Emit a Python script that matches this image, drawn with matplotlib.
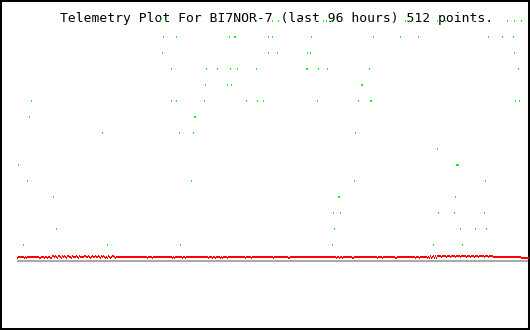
#Purpose: telemetry plot for BI7NOR-7, 512 points, one pixel column per point

import numpy as np
from matplotlib import pyplot as plt

#title of the chart
title = "Telemetry Plot For BI7NOR-7 (last 96 hours) 512 points."

#number of samples
n_points = 512

#green channel: sample index and its level (levels are whole steps)
green_x = [143, 148, 199, 219, 239, 255, 261, 285, 298, 306, 309, 314, 388, 392, 406, 420, 428, 456, 490, 497, 504,
           146, 159, 212, 217, 218, 251, 255, 294, 356, 383, 401, 471, 485, 496,
           145, 251, 260, 290, 293, 497,
           154, 189, 200, 213, 220, 239, 289, 290, 301, 310, 352, 501,
           188, 210, 214, 344, 345,
           14, 154, 159, 187, 229, 240, 246, 300, 341, 353, 354, 498, 502,
           12, 177, 178,
           85, 162, 176, 338,
           420,
           1, 439, 440, 441,
           10, 174, 337, 468,
           36, 321, 322, 438,
           316, 323, 421, 437, 467,
           39, 317, 443, 458, 469,
           6, 90, 163, 315, 416, 445]
green_level = [15] * 21 + [14] * 14 + [13] * 6 + [12] * 12 + [11] * 5 + [10] * 13 + [9] * 3 + [8] * 4 + [7] * 1 \
              + [6] * 4 + [5] * 4 + [4] * 4 + [3] * 5 + [2] * 5 + [1] * 6

#red channel: sits just above zero, with single steps up or down
red_base = 0.25
red_step = 0.0625
red_up = [35, 36, 38, 41, 42, 45, 47, 50, 51, 55, 59, 62, 67, 68, 71, 75, 78, 81, 84, 86, 91, 95, 96,
          413, 416, 418] + [i for i in range(420, 476) if i not in (424, 429, 433, 438, 443, 449, 453, 457, 461, 467, 471)]
red_down = [0, 7, 9, 22, 23, 27, 30, 33, 34, 40, 44, 49, 54, 61, 73, 83, 88, 90, 93, 98,
            130, 135, 155, 157, 165, 168, 191, 195, 198, 203, 205, 210, 228, 234, 256, 271, 272,
            319, 322, 325, 335, 336, 360, 365, 378, 379, 398, 402, 410, 412, 414, 417, 419,
            504, 505, 506, 507, 508, 509, 510, 511]

#build the red series from the readings
red = np.full(n_points, red_base)
red[red_up] = red_base + red_step
red[red_down] = red_base - red_step

#one pixel in data units (vertical), a little padding so blocks have no seams
px = 1 / 16
pad = 0.04

#figure, 530x330 pixels
fig = plt.figure(figsize=(5.3, 3.3), dpi=100)
fig.patch.set_facecolor('white')
ax = fig.add_axes([0, 0, 1, 1])
ax.set_xlim(-17.5, 512.5)
ax.set_ylim(-4.3125, 16.3125)
ax.set_xticks([])
ax.set_yticks([])
for s in ax.spines.values():
    s.set_linewidth(2.9)
    s.set_color('black')

#title text, drawn under the green points
ax.text(60 / 530, 1 - 22.3 / 330, title, transform=fig.transFigure, family='DejaVu Sans Mono',
        fontsize=9.4, color='black', va='baseline', ha='left', zorder=1)

#zero line in grey, 2 pixels tall
ax.fill_between([-0.5, n_points + 1], -px * (1 + pad), px * (1 + pad), color='#aaaaaa', lw=0,
                antialiased=False, zorder=2)

#red channel, each sample a 1x2 pixel block
ax.bar(np.arange(n_points), 2 * px * (1 + pad), bottom=red - px * (1 + pad), width=1 + pad,
       color='#ff0000', lw=0, antialiased=False, zorder=3)

#green points, 1 pixel wide and 2 pixels tall
gl = np.array(green_level, dtype=float)
ax.bar(green_x, 2 * px * (1 + pad), bottom=gl - px * (1 + pad), width=1 + pad,
       color='#00ff00', lw=0, antialiased=False, zorder=3)

fig.savefig('out.png', dpi=100)
